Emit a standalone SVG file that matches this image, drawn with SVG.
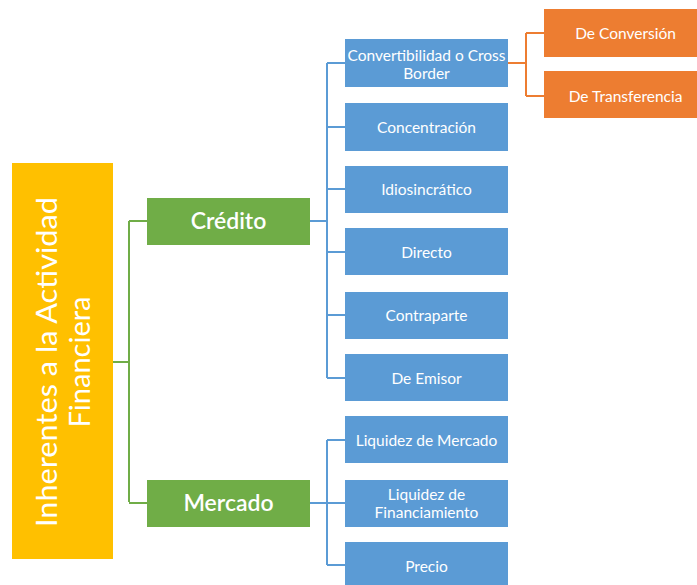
<svg xmlns="http://www.w3.org/2000/svg" width="697" height="585" viewBox="0 0 697 585">
<style>
.t{font-family:Lato,"Open Sans","Liberation Sans",sans-serif;fill:#fff;text-anchor:middle;dominant-baseline:central}
.b{fill:#5B9BD5}
.g{fill:#70AD47}
.o{fill:#ED7D31}
.s{font-size:15.5px}
.c{fill:none;stroke-width:2}
</style>
<rect width="697" height="585" fill="#fff"/>
<g id="connectors">
<path class="c" stroke="#70AD47" d="M113 362H129M129 221V502M129 221H147M129 503H147"/>
<path class="c" stroke="#5B9BD5" d="M310 221H327M327 63V378M327 63H345M327 127H345M327 189H345M327 252H345M327 315H345M327 378H345"/>
<path class="c" stroke="#5B9BD5" d="M310 503H327M327 440V565M327 440H345M327 503H345M327 565H345"/>
<path class="c" stroke="#ED7D31" d="M508 63H526M526 33V96M526 33H544M526 96H544"/>
</g>
<g id="root"><rect x="12" y="163" width="101" height="396" fill="#FFC000"/>
<text class="t" transform="translate(62,362) rotate(-90)" font-size="29"><tspan x="0" y="-17" textLength="330" lengthAdjust="spacingAndGlyphs">Inherentes a la Actividad</tspan><tspan x="0" y="16">Financiera</tspan></text></g>
<g id="credito"><rect class="g" x="147" y="198" width="163" height="47"/><text class="t" x="228.5" y="220" font-size="23" font-weight="600">Crédito</text></g>
<g id="mercado"><rect class="g" x="147" y="480" width="163" height="47"/><text class="t" x="228.5" y="502" font-size="23" font-weight="600">Mercado</text></g>
<g id="convertibilidad"><rect class="b" x="345" y="39" width="163" height="48"/><text class="t s" x="426.5" y="55">Convertibilidad o Cross</text><text class="t s" x="426.5" y="73">Border</text></g>
<g id="concentracion"><rect class="b" x="345" y="103" width="163" height="48"/><text class="t s" x="426.5" y="127">Concentración</text></g>
<g id="idiosincratico"><rect class="b" x="345" y="166" width="163" height="47"/><text class="t s" x="426.5" y="189">Idiosincrático</text></g>
<g id="directo"><rect class="b" x="345" y="228" width="163" height="47"/><text class="t s" x="426.5" y="252">Directo</text></g>
<g id="contraparte"><rect class="b" x="345" y="292" width="163" height="47"/><text class="t s" x="426.5" y="315">Contraparte</text></g>
<g id="emisor"><rect class="b" x="345" y="354" width="163" height="47"/><text class="t s" x="426.5" y="378">De Emisor</text></g>
<g id="liqmercado"><rect class="b" x="345" y="416" width="163" height="47"/><text class="t s" x="426.5" y="440">Liquidez de Mercado</text></g>
<g id="liqfin"><rect class="b" x="345" y="480" width="163" height="47"/><text class="t s" x="426.5" y="494">Liquidez de</text><text class="t s" x="426.5" y="512">Financiamiento</text></g>
<g id="precio"><rect class="b" x="345" y="542" width="163" height="47"/><text class="t s" x="426.5" y="566">Precio</text></g>
<g id="conversion"><rect class="o" x="544" y="9" width="163" height="48"/><text class="t s" x="625.5" y="33">De Conversión</text></g>
<g id="transferencia"><rect class="o" x="544" y="71" width="163" height="47"/><text class="t s" x="625.5" y="96">De Transferencia</text></g>
</svg>
